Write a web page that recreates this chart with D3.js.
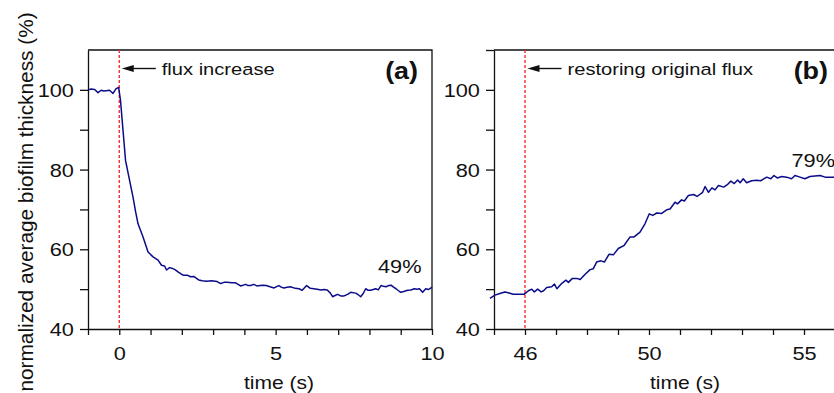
<!DOCTYPE html>
<html>
<head>
<meta charset="utf-8">
<script src="https://cdn.jsdelivr.net/npm/d3@7"></script>
<style>
  body { margin: 0; background: #fff; }
  svg { display: block; font-family: "Liberation Sans", Arial, sans-serif; }
</style>
</head>
<body>
<div class="chart"></div>
<script>
// panel (a): flux increase at t = 0
var timeA = [-1.00,-0.90,-0.79,-0.68,-0.58,-0.50,-0.42,-0.31,-0.20,-0.10,-0.02,0.04,0.12,0.20,0.33,0.44,0.52,0.60,0.76,0.92,
  1.08,1.24,1.35,1.45,1.51,1.61,1.70,1.78,1.90,2.04,2.17,2.28,2.38,2.47,2.54,2.65,2.80,2.95,3.13,3.24,
  3.35,3.45,3.60,3.72,3.88,4.04,4.12,4.20,4.30,4.40,4.50,4.60,4.70,4.82,4.95,5.10,5.18,5.26,5.37,5.47,
  5.63,5.75,5.85,5.99,6.11,6.22,6.33,6.45,6.55,6.65,6.75,6.82,6.90,6.98,7.08,7.19,7.30,7.40,7.56,7.64,
  7.72,7.80,7.88,7.96,8.04,8.12,8.20,8.28,8.37,8.45,8.53,8.61,8.69,8.77,8.85,8.93,9.00,9.10,9.22,9.32,
  9.44,9.52,9.60,9.70,9.80,9.88,9.97,10.00];
var thickA = [100.0,100.2,100.1,99.3,99.9,99.7,99.8,99.9,99.1,100.3,100.6,97.3,89.8,82.3,77.3,73.1,69.5,66.4,63.1,59.3,
  58.1,57.3,56.0,55.8,54.8,55.4,55.2,54.9,54.2,53.5,53.5,53.1,53.2,52.7,52.3,52.1,52.0,52.1,51.9,51.4,
  51.7,51.7,51.6,51.6,50.8,51.2,50.9,50.9,51.2,50.8,50.9,51.0,50.9,50.6,50.3,50.9,50.5,50.3,50.5,50.6,
  50.2,50.1,49.7,50.9,50.2,50.1,50.0,49.8,49.9,49.8,49.0,48.1,48.4,48.7,48.3,48.3,48.7,49.2,49.0,48.6,
  48.1,48.9,50.1,49.7,49.7,49.9,50.1,49.8,50.9,50.7,50.6,50.9,51.0,50.5,50.1,49.6,49.2,49.4,49.7,49.8,
  50.1,50.0,50.1,49.2,50.1,49.9,50.3,50.5];

// panel (b): original flux restored at t = 46
var timeB = [44.87,45.03,45.19,45.35,45.46,45.62,45.78,45.98,46.11,46.22,46.30,46.41,46.52,46.60,46.70,46.86,46.95,47.03,47.18,47.32,
  47.40,47.53,47.67,47.78,47.94,48.10,48.20,48.31,48.45,48.56,48.71,48.85,49.01,49.20,49.39,49.52,49.71,49.87,50.01,50.12,
  50.25,50.41,50.57,50.68,50.84,50.92,51.05,51.14,51.27,51.44,51.55,51.73,51.81,51.92,52.03,52.13,52.24,52.41,52.54,52.64,
  52.75,52.86,52.94,53.04,53.15,53.31,53.47,53.60,53.80,53.93,54.03,54.14,54.28,54.44,54.60,54.71,54.87,55.03,55.19,55.52,
  55.68,56.00];
var thickB = [47.7,48.5,48.9,49.3,49.1,48.7,48.75,48.75,49.6,50.0,49.3,50.0,49.3,49.6,50.4,50.6,51.25,50.1,51.4,52.25,
  51.7,52.7,52.7,52.4,53.75,54.9,55.1,56.8,57.1,56.8,58.75,58.6,60.2,61.0,63.1,63.1,64.3,66.4,68.9,68.5,
  69.1,69.0,69.9,70.1,71.8,71.4,72.4,72.1,73.5,73.75,73.25,74.3,75.75,74.3,75.4,74.9,76.0,75.6,76.3,77.1,
  76.5,77.4,76.7,77.7,76.7,77.2,77.3,77.2,78.1,77.7,78.5,77.9,78.25,78.1,77.7,78.5,78.1,77.7,78.25,78.5,
  78.1,78.1];

var yTicks = [40, 50, 60, 70, 80, 90, 100];
var yTicksB = [40, 50, 60, 70, 80, 90, 100, 110];
var yLabels = [40, 60, 80, 100];
var xTicksA = d3.range(-1, 11);
var xLabelsA = [0, 5, 10];
var xTicksB = d3.range(45, 57);
var xLabelsB = [46, 50, 55];
var eventTimes = [0, 46];
var finalValues = ["49%", "79%"];

var W = 834, H = 393;
var SX = 1.17;            // the figure is a bit wider than tall, stretch the text the same way
var lineColor = "#0c0c8a";
var dashColor = "#ff2a2a";

var svg = d3.select(".chart").append("svg")
    .attr("width", W)
    .attr("height", H);

var y = d3.scaleLinear().domain([40, 110]).range([329, 50]);

function txt(g, x, yy, s, size, anchor, weight) {
  return g.append("text")
    .attr("transform", "translate(" + x + "," + yy + ") scale(" + SX + ",1)")
    .attr("font-size", size)
    .attr("font-weight", weight || "normal")
    .attr("text-anchor", anchor || "start")
    .attr("fill", "#111")
    .text(s);
}

function panel(opts) {
  var x = d3.scaleLinear().domain(opts.domain).range(opts.range);
  var g = svg.append("g");

  // frame (top and right)
  g.append("path")
    .attr("d", "M" + x.range()[0] + "," + y(110) + "H" + x.range()[1] + "V" + y(40))
    .attr("fill", "none").attr("stroke", "#111").attr("stroke-width", 1.3);

  var xAxis = d3.axisBottom(x)
    .tickValues(opts.xTicks)
    .tickSizeInner(6).tickSizeOuter(0)
    .tickFormat(function(d){ return opts.xLabels.indexOf(d) >= 0 ? d : ""; });
  var gx = g.append("g")
    .attr("transform", "translate(0," + y(40) + ")")
    .call(xAxis);
  gx.selectAll("text")
    .attr("y", 31.5).attr("dy", 0)
    .attr("font-size", 18.6)
    .attr("fill", "#111")
    .attr("font-family", null)
    .attr("transform", "scale(" + SX + ",1)");

  var yAxis = d3.axisLeft(y)
    .tickValues(opts.yTicks)
    .tickSizeInner(8).tickSizeOuter(0)
    .tickFormat(function(d){ return yLabels.indexOf(d) >= 0 ? d : ""; });
  var gy = g.append("g")
    .attr("transform", "translate(" + x.range()[0] + ",0)")
    .call(yAxis);
  gy.selectAll("text")
    .attr("x", -12).attr("dy", "0.36em")
    .attr("font-size", 18.6)
    .attr("fill", "#111")
    .attr("font-family", null)
    .attr("transform", "scale(" + SX + ",1)");

  g.selectAll(".domain, .tick line")
    .attr("stroke", "#111").attr("stroke-width", 1.3);

  // event line
  g.append("line")
    .attr("x1", x(opts.event)).attr("x2", x(opts.event))
    .attr("y1", y(110)).attr("y2", y(40))
    .attr("stroke", dashColor).attr("stroke-width", 1.4)
    .attr("stroke-dasharray", "3,2");

  // data
  var line = d3.line()
    .x(function(d){ return x(d[0]); })
    .y(function(d){ return y(d[1]); });
  g.append("path")
    .datum(d3.zip(opts.time, opts.thick))
    .attr("d", line)
    .attr("fill", "none")
    .attr("stroke", lineColor)
    .attr("stroke-width", 1.5)
    .attr("stroke-linejoin", "round");

  // arrow + note
  var ay = 68.5, tip = x(opts.event) + 2.5, tail = tip + 34;
  g.append("line")
    .attr("x1", tip + 8).attr("x2", tail)
    .attr("y1", ay).attr("y2", ay)
    .attr("stroke", "#111").attr("stroke-width", 1.4);
  g.append("path")
    .attr("d", "M" + tip + "," + ay + "L" + (tip + 12) + "," + (ay - 3.5) + "L" + (tip + 12) + "," + (ay + 3.5) + "Z")
    .attr("fill", "#111");
  txt(g, tail + 6, 75, opts.note, 17.2);

  txt(g, opts.tagX, 78.5, opts.tag, 23, "end", "bold");
  txt(g, opts.finalX, opts.finalY, opts.final, 18.6);
  txt(g, opts.titleX, 388.5, "time (s)", 18, "middle");
  return x;
}

panel({
  domain: [-1, 10], range: [88, 432],
  xTicks: xTicksA, xLabels: xLabelsA, yTicks: yTicks,
  time: timeA, thick: thickA, event: eventTimes[0],
  note: "flux increase", tag: "(a)", tagX: 418,
  final: finalValues[0], finalX: 378, finalY: 273.3, titleX: 279
});

panel({
  domain: [45, 56], range: [494, 835],
  xTicks: xTicksB, xLabels: xLabelsB, yTicks: yTicksB,
  time: timeB, thick: thickB, event: eventTimes[1],
  note: "restoring original flux", tag: "(b)", tagX: 828,
  final: finalValues[1], finalX: 791.5, finalY: 166.7, titleX: 685
});

// shared y title
svg.append("text")
  .attr("transform", "translate(33,202) rotate(-90)")
  .attr("text-anchor", "middle")
  .attr("font-size", 20.8)
  .attr("fill", "#111")
  .text("normalized average biofilm thickness (%)");
</script>
</body>
</html>
